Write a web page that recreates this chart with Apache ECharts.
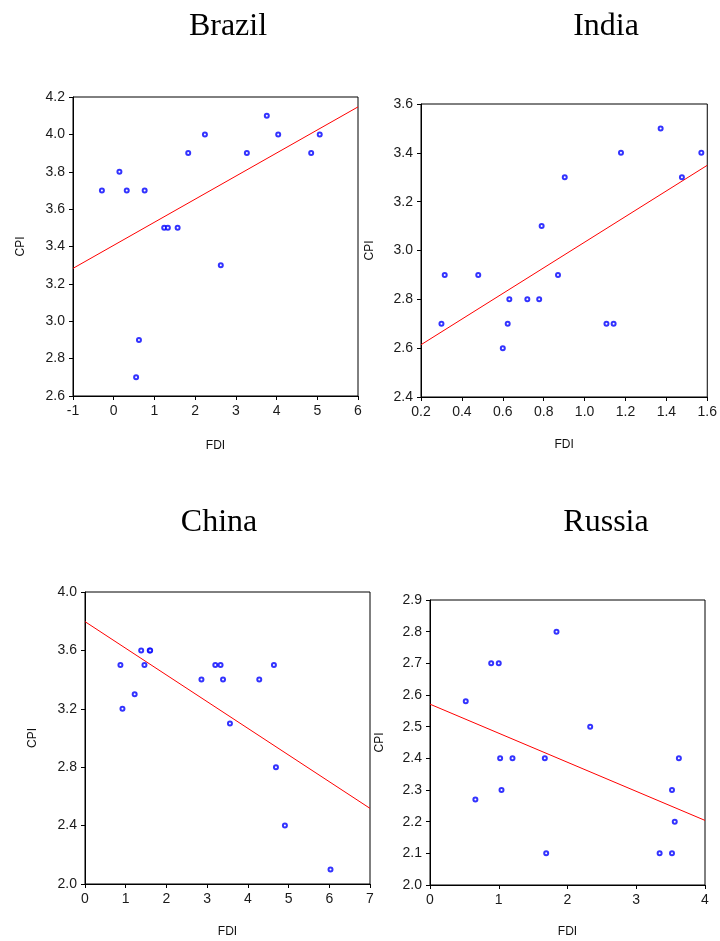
<!DOCTYPE html>
<html>
<head>
<meta charset="utf-8">
<script src="https://cdn.jsdelivr.net/npm/echarts@6/dist/echarts.min.js"></script>
<style>
html,body{margin:0;padding:0;background:#fff;}
#chart{width:720px;height:941px;}
</style>
</head>
<body>
<div id="chart"></div>
<script>
// ---- Data ----
const panelTitles = ['Brazil', 'India', 'China', 'Russia'];

const brazilFDI = [-0.29, 0.14, 0.32, 0.76, 1.24, 1.33, 1.57, 1.83, 2.24, 2.63, 3.27, 3.76, 4.04, 4.85, 5.06, 0.62, 0.55];
const brazilCPI = [3.7, 3.8, 3.7, 3.7, 3.5, 3.5, 3.5, 3.9, 4.0, 3.3, 3.9, 4.1, 4.0, 3.9, 4.0, 2.9, 2.7];
const brazilFit = [[-1, 3.283], [6, 4.147]];

const indiaFDI = [0.30, 0.316, 0.48, 0.60, 0.624, 0.632, 0.72, 0.778, 0.79, 0.87, 0.903, 1.107, 1.142, 1.178, 1.372, 1.476, 1.571];
const indiaCPI = [2.7, 2.9, 2.9, 2.6, 2.7, 2.8, 2.8, 2.8, 3.1, 2.9, 3.3, 2.7, 2.7, 3.4, 3.5, 3.3, 3.4];
const indiaFit = [[0.2, 2.614], [1.6, 3.349]];

const chinaFDI = [0.87, 0.92, 1.22, 1.38, 1.46, 1.59, 1.60, 2.86, 3.20, 3.33, 3.39, 3.56, 4.28, 4.64, 4.69, 4.91, 6.03];
const chinaCPI = [3.5, 3.2, 3.3, 3.6, 3.5, 3.6, 3.6, 3.4, 3.5, 3.5, 3.4, 3.1, 3.4, 3.5, 2.8, 2.4, 2.1];
const chinaFit = [[0, 3.797], [7, 2.518]];

const russiaFDI = [0.52, 0.66, 0.89, 1.00, 1.02, 1.04, 1.20, 1.67, 1.69, 1.84, 2.33, 3.34, 3.52, 3.52, 3.56, 3.62];
const russiaCPI = [2.58, 2.27, 2.7, 2.7, 2.4, 2.3, 2.4, 2.4, 2.1, 2.8, 2.5, 2.1, 2.3, 2.1, 2.2, 2.4];
const russiaFit = [[0, 2.571], [4, 2.204]];

// axis ranges: [min, max, interval]
const xRanges = [[-1, 6, 1], [0.2, 1.6, 0.2], [0, 7, 1], [0, 4, 1]];
const yRanges = [[2.6, 4.2, 0.2], [2.4, 3.6, 0.2], [2.0, 4.0, 0.4], [2.0, 2.9, 0.1]];
const xLabelDecimals = [0, 1, 0, 0];

const xName = 'FDI';
const yName = 'CPI';

// ---- Layout ----
const grids = [
  {left: 73, top: 97, width: 285, height: 299},
  {left: 421, top: 104, width: 291, height: 293},
  {left: 85, top: 592, width: 285, height: 292},
  {left: 430, top: 600, width: 275, height: 285}
];
const titlePos = [[228, 11], [606, 11], [219, 507], [606, 507]];
const yNameGap = [46, 45, 46, 44];
const xNameGap = [44, 42, 42, 41];

const scatterData = [
  brazilFDI.map((x, i) => [x, brazilCPI[i]]),
  indiaFDI.map((x, i) => [x, indiaCPI[i]]),
  chinaFDI.map((x, i) => [x, chinaCPI[i]]),
  russiaFDI.map((x, i) => [x, russiaCPI[i]])
];
const fits = [brazilFit, indiaFit, chinaFit, russiaFit];

const tickFont = {fontFamily: 'Liberation Sans', fontSize: 14, color: '#1a1a1a'};

const option = {
  backgroundColor: '#fff',
  animation: false,
  title: panelTitles.map((t, i) => ({
    text: t,
    left: titlePos[i][0],
    top: titlePos[i][1],
    textAlign: 'center',
    padding: 0,
    textStyle: {fontFamily: 'Liberation Serif', fontSize: 32, fontWeight: 'normal', color: '#000'}
  })),
  grid: grids.map(g => Object.assign({show: true, borderColor: '#000', borderWidth: 1, backgroundColor: 'transparent', containLabel: false}, g)),
  xAxis: xRanges.map((r, i) => ({
    type: 'value', gridIndex: i, min: r[0], max: r[1], interval: r[2],
    name: xName, nameLocation: 'middle', nameGap: xNameGap[i],
    nameTextStyle: {fontFamily: 'Liberation Sans', fontSize: 12, color: '#111'},
    axisLine: {show: true, onZero: false, lineStyle: {color: '#000', width: 1}},
    axisTick: {show: true, inside: false, length: 4, lineStyle: {color: '#000'}},
    axisLabel: Object.assign({margin: 8, formatter: v => Number(v).toFixed(xLabelDecimals[i]), showMinLabel: true, showMaxLabel: true, hideOverlap: false}, tickFont),
    splitLine: {show: false}
  })),
  yAxis: yRanges.map((r, i) => ({
    type: 'value', gridIndex: i, min: r[0], max: r[1], interval: r[2],
    name: yName, nameLocation: 'middle', nameGap: yNameGap[i], nameRotate: 90,
    nameTextStyle: {fontFamily: 'Liberation Sans', fontSize: 12, color: '#111'},
    axisLine: {show: true, onZero: false, lineStyle: {color: '#000', width: 1}},
    axisTick: {show: true, inside: false, length: 4, lineStyle: {color: '#000'}},
    axisLabel: Object.assign({margin: 8, formatter: v => Number(v).toFixed(1), showMinLabel: true, showMaxLabel: true, hideOverlap: false}, tickFont),
    splitLine: {show: false}
  })),
  series: []
};

for (let i = 0; i < 4; i++) {
  option.series.push({
    type: 'line', xAxisIndex: i, yAxisIndex: i,
    data: fits[i], showSymbol: false, symbol: 'none',
    lineStyle: {color: '#ff0000', width: 1}, silent: true, z: 2
  });
  option.series.push({
    type: 'scatter', xAxisIndex: i, yAxisIndex: i,
    data: scatterData[i], symbol: 'emptyCircle', symbolSize: 4,
    itemStyle: {color: '#0000ff', borderColor: '#0000ff', borderWidth: 1.3}, z: 3
  });
}

const chart = echarts.init(document.getElementById('chart'), null, {renderer: 'canvas'});
chart.setOption(option);
</script>
</body>
</html>
